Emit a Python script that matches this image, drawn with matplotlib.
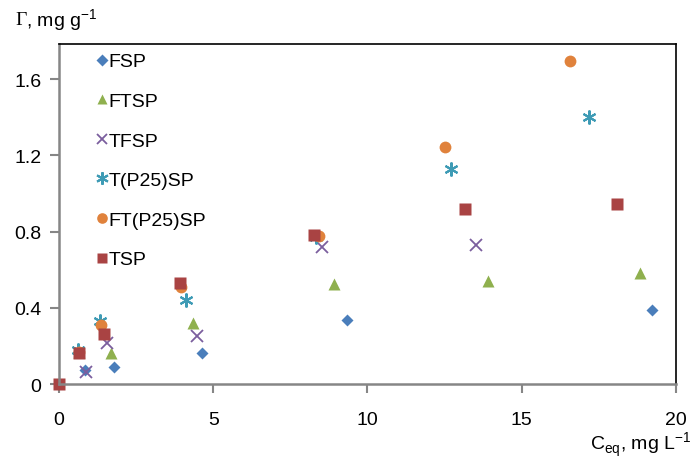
import matplotlib.pyplot as plt
from matplotlib.ticker import FixedLocator, FuncFormatter

plt.rcParams['font.family'] = ['Liberation Sans', 'DejaVu Sans']

# data
fsp_x = [0.84, 1.78, 4.65, 9.33, 19.22]
fsp_y = [0.073, 0.091, 0.163, 0.337, 0.39]

ftsp_x = [0.65, 1.68, 4.34, 8.92, 13.91, 18.83]
ftsp_y = [0.17, 0.165, 0.32, 0.525, 0.539, 0.581]

tfsp_x = [0.88, 1.57, 4.48, 8.52, 13.53]
tfsp_y = [0.061, 0.215, 0.254, 0.722, 0.731]

tp25_x = [0.62, 1.33, 4.11, 8.33, 12.71, 17.18]
tp25_y = [0.18, 0.33, 0.442, 0.77, 1.128, 1.402]

ftp25_x = [0.64, 1.35, 3.96, 8.44, 12.5, 16.57]
ftp25_y = [0.17, 0.31, 0.507, 0.775, 1.245, 1.698]

tsp_x = [0.0, 0.66, 1.45, 3.91, 8.25, 13.16, 18.1]
tsp_y = [0.0, 0.161, 0.262, 0.528, 0.783, 0.918, 0.943]

fig = plt.figure(figsize=(6.93, 4.60), dpi=100)
ax = fig.add_axes([0.0851, 0.163, 0.8904, 0.739])

kw = dict(linestyle='none', clip_on=False)
ax.plot(fsp_x, fsp_y, 'D', color='#4A7EBB', ms=6.5, mec='none', label='FSP', **kw)
ax.plot(ftsp_x, ftsp_y, '^', color='#8FB04E', ms=8.5, mec='none', label='FTSP', **kw)
ax.plot(tfsp_x, tfsp_y, 'x', color='#7B5E9E', ms=8, mew=1.3, label='TFSP', **kw)
ax.plot(tp25_x, tp25_y, color='#3E9BB5', marker=(6, 2, 0), ms=10, mew=1.5,
        label='T(P25)SP', **kw)
ax.plot(ftp25_x, ftp25_y, 'o', color='#E0823C', ms=8.5, mec='none', label='FT(P25)SP', **kw)
ax.plot(tsp_x, tsp_y, 's', color='#A94343', ms=8.5, mec='none', label='TSP', **kw)

ax.set_xlim(0, 20)
ax.set_ylim(0, 1.785)
ax.xaxis.set_major_locator(FixedLocator([0, 5, 10, 15, 20]))
ax.yaxis.set_major_locator(FixedLocator([0, 0.4, 0.8, 1.2, 1.6]))
ax.yaxis.set_major_formatter(FuncFormatter(lambda v, p: '0' if v == 0 else '%.1f' % v))

for s in ['left', 'bottom']:
    ax.spines[s].set_color('#868686')
    ax.spines[s].set_linewidth(1.8)
for s in ['top', 'right']:
    ax.spines[s].set_color('#000000')
    ax.spines[s].set_linewidth(1.2)
ax.tick_params(direction='out', length=6.5, width=1.5, color='#868686', labelsize=14)
ax.tick_params(axis='y', pad=6)
ax.tick_params(axis='x', pad=13)

leg = ax.legend(loc='upper left', bbox_to_anchor=(0.0483, 0.997), frameon=False,
                fontsize=14, handlelength=0.52, handletextpad=0.11, markerscale=0.9,
                labelspacing=1.13, borderaxespad=0)

fig.text(0.022, 0.956, '\u0393', fontsize=14, family='Liberation Serif', va='center')
fig.text(0.038, 0.956, ', mg g$^{\\mathregular{-1}}$', fontsize=14, va='center')
fig.text(0.997, 0.032, 'C$_{\\mathregular{eq}}$, mg L$^{\\mathregular{-1}}$', fontsize=14,
         ha='right', va='center')

fig.savefig('out.png', dpi=100)
